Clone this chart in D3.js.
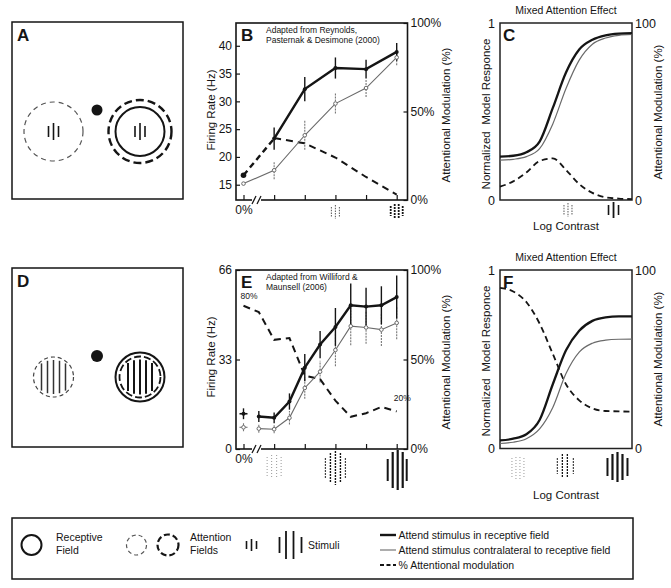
<!DOCTYPE html>
<html>
<head>
<meta charset="utf-8">
<script src="https://cdn.jsdelivr.net/npm/d3@7"></script>
<style>
  body { margin: 0; background: #fff; }
  svg { display: block; }
</style>
</head>
<body>
<script>
// ---------- data ----------
// B: Reynolds, Pasternak & Desimone (2000). contrast step 0 = 0%, axis broken after it
const contrastB = [0, 1, 2, 3, 4, 5];
const attendInB = [16.7, 23.3, 32.2, 36.0, 35.8, 38.9];
const attendInErrB = [0, 2.0, 2.2, 1.9, 1.7, 1.6];
const attendOutB = [15.2, 17.6, 23.9, 29.6, 32.4, 37.9];
const attendOutErrB = [0, 1.6, 2.6, 1.8, 1.6, 1.4];
const contrastModB = [1, 2, 3, 4, 5];
const modulationB = [35, 32, 24, 13, 3];
const yTicksB = [15, 20, 25, 30, 35, 40];

// E: Williford & Maunsell (2006)
const contrastE = [0, 0.5, 1, 1.5, 2, 2.5, 3, 3.5, 4, 4.5, 5];
const attendInE = [13, 12, 11.5, 17.5, 30, 38.5, 45, 53, 52.5, 53, 56];
const attendInErrE = [2, 2, 2, 3, 5, 5, 7, 8, 7, 7, 8];
const attendOutE = [8, 7.5, 7.3, 11.5, 22.5, 28.5, 36.5, 45.3, 44.8, 44, 46.5];
const attendOutErrE = [1.5, 1.5, 1.5, 2.5, 4, 4, 6, 7, 6, 6, 6];
const modulationE = [80, 76.5, 61, 62, 41, 39, 27, 18, 20, 23.5, 21];
const yTicksE = [0, 33, 66];
const modTicks = [0, 50, 100];

// C and F: model responses over log contrast
const logContrast = [0, 1, 2, 3, 4, 5, 6, 7, 8, 9, 10];
const modelInC = [0.245, 0.25, 0.27, 0.33, 0.52, 0.72, 0.85, 0.905, 0.93, 0.94, 0.943];
const modelOutC = [0.225, 0.23, 0.245, 0.29, 0.43, 0.63, 0.79, 0.88, 0.915, 0.93, 0.935];
const modelModC = [7.5, 10.5, 15.5, 22, 23.5, 17, 9, 4, 1.5, 0.8, 0.5];
const modelInF = [0.045, 0.055, 0.08, 0.16, 0.36, 0.55, 0.66, 0.715, 0.735, 0.74, 0.74];
const modelOutF = [0.028, 0.035, 0.055, 0.11, 0.23, 0.42, 0.54, 0.59, 0.607, 0.612, 0.613];
const modelModF = [90, 88, 82, 70, 53, 36, 27, 22.5, 21, 20.8, 20.6];

const legendLines = ["Attend stimulus in receptive field",
  "Attend stimulus contralateral to receptive field",
  "% Attentional modulation"];

// ---------- drawing ----------
const ink = "#151515", grey = "#6a6a6a";
const font = "'Liberation Sans', Arial, Helvetica, sans-serif";

const svg = d3.select("body").append("svg")
  .attr("width", 671).attr("height", 588)
  .style("font-family", font);
svg.append("rect").attr("width", 671).attr("height", 588).attr("fill", "#fff");

function txt(x, y, s, size, opts = {}) {
  return svg.append("text").attr("x", x).attr("y", y)
    .attr("font-size", size).attr("fill", ink)
    .attr("text-anchor", opts.anchor || "start")
    .attr("font-weight", opts.bold ? "bold" : null)
    .text(s);
}

function vText(x, y, s, size) {
  svg.append("text").attr("transform", `translate(${x},${y}) rotate(-90)`)
    .attr("text-anchor", "middle").attr("dy", "0.35em")
    .attr("font-size", size).attr("fill", ink)
    .style("white-space", "pre").text(s);
}

// a stimulus glyph: bars = [dx, half height, width, dash, colour]
function glyph(cx, cy, bars) {
  bars.forEach(([dx, h, w, dash, c]) => {
    svg.append("line")
      .attr("x1", cx + dx).attr("x2", cx + dx)
      .attr("y1", cy - h).attr("y2", cy + h)
      .attr("stroke", c || ink).attr("stroke-width", w)
      .attr("stroke-dasharray", dash || null);
  });
}

function circle(cx, cy, r, w, dash, c) {
  svg.append("circle").attr("cx", cx).attr("cy", cy).attr("r", r)
    .attr("fill", "none").attr("stroke", c || ink).attr("stroke-width", w)
    .attr("stroke-dasharray", dash || null);
}

// ---- panels A and D: the stimulus layouts
function scene(top, h, letter) {
  svg.append("rect").attr("x", 12).attr("y", top).attr("width", 171).attr("height", h)
    .attr("fill", "none").attr("stroke", ink).attr("stroke-width", 1.5);
  txt(17, top + 19, letter, 17, { bold: true });
}

scene(22, 177, "A");
circle(53.5, 131.5, 29.5, 1.2, "5,4", "#555");
glyph(53.5, 131.5, [[-5, 5.5, 1.6], [0, 8.5, 1.6], [5, 5.5, 1.6]]);
svg.append("circle").attr("cx", 97).attr("cy", 110).attr("r", 5.5).attr("fill", ink);
circle(140, 131.5, 24.5, 2);
circle(140, 131.5, 31.5, 2.4, "8,4");
glyph(140, 131.5, [[-5, 5.5, 1.6], [0, 8.5, 1.6], [5, 5.5, 1.6]]);

scene(268, 179, "D");
svg.append("circle").attr("cx", 97).attr("cy", 356).attr("r", 6).attr("fill", ink);
circle(53.5, 377, 20, 1.2, "4,3", "#444");
glyph(53.5, 377, [-12, -6, 0, 6, 12].map(dx => [dx, Math.sqrt(400 - dx * dx) * 0.85, 1.5, null, "#333"]));
circle(140, 377, 24.5, 2);
circle(140, 377, 20.5, 1.8, "7,3");
glyph(140, 377, [-12, -6, 0, 6, 12].map(dx => [dx, Math.sqrt(420 - dx * dx) * 0.85, 2]));

// ---- panels B and E: recorded firing rates
function dataPanel(o) {
  const L = 236, R = 407.5;
  const x = d3.scaleLinear().domain([0, 5]).range([243.5, 396.7]);
  const y = d3.scaleLinear().domain(o.yDomain).range([o.bottom, o.top]);
  const yR = d3.scaleLinear().domain([0, 100]).range([o.bottom, o.top]);
  const g = svg.append("g");

  const axL = g.append("g").attr("transform", `translate(${L},0)`)
    .call(d3.axisLeft(y).tickValues(o.yTicks).tickSizeInner(-4).tickSizeOuter(0).tickPadding(4));
  const axR = g.append("g").attr("transform", `translate(${R},0)`)
    .call(d3.axisRight(yR).tickValues(modTicks).tickFormat(d => d + "%")
      .tickSizeInner(-4).tickSizeOuter(0).tickPadding(3));
  const axB = g.append("g").attr("transform", `translate(0,${o.bottom})`)
    .call(d3.axisBottom(x).tickValues([0, 1, 2, 3, 4, 5]).tickFormat(d => d === 0 ? "0%" : "")
      .tickSizeInner(-5).tickSizeOuter(0).tickPadding(5));
  [axL, axR, axB].forEach(a => {
    a.attr("font-family", null).attr("font-size", 12);
    a.select(".domain").remove();
    a.selectAll("line").attr("stroke", ink).attr("stroke-width", 1.2);
    a.selectAll("text").attr("fill", ink);
  });

  g.append("rect").attr("x", L).attr("y", o.top).attr("width", R - L).attr("height", o.bottom - o.top)
    .attr("fill", "none").attr("stroke", ink).attr("stroke-width", 1.6);

  // axis break
  g.append("rect").attr("x", 252).attr("y", o.bottom - 3).attr("width", 9).attr("height", 6).attr("fill", "#fff");
  [252, 257].forEach(bx => g.append("line")
    .attr("x1", bx).attr("y1", o.bottom + 4).attr("x2", bx + 4).attr("y2", o.bottom - 4)
    .attr("stroke", ink).attr("stroke-width", 1.3));

  const line = d3.line().x(d => x(d[0])).y(d => y(d[1]));
  const inPts = d3.zip(o.contrast, o.attendIn, o.attendInErr);
  const outPts = d3.zip(o.contrast, o.attendOut, o.attendOutErr);

  // error bars
  outPts.forEach(([c, v, e]) => {
    if (!e) return;
    g.append("line").attr("x1", x(c)).attr("x2", x(c)).attr("y1", y(v - e)).attr("y2", y(v + e))
      .attr("stroke", "#777").attr("stroke-width", 1.1).attr("stroke-dasharray", "2,1");
  });
  inPts.forEach(([c, v, e]) => {
    if (!e) return;
    g.append("line").attr("x1", x(c)).attr("x2", x(c)).attr("y1", y(v - e)).attr("y2", y(v + e))
      .attr("stroke", ink).attr("stroke-width", 1.4);
  });

  // modulation
  g.append("path").datum(d3.zip(o.modContrast, o.modulation))
    .attr("d", d3.line().x(d => x(d[0])).y(d => yR(d[1])))
    .attr("fill", "none").attr("stroke", ink).attr("stroke-width", 2).attr("stroke-dasharray", "7,5");

  // attend-out (thin)
  const outStart = o.linkZero ? 0 : 1;
  g.append("path").datum(outPts.slice(outStart)).attr("d", line)
    .attr("fill", "none").attr("stroke", grey).attr("stroke-width", 1.1);
  // attend-in (thick)
  if (o.linkZero) {
    g.append("path").datum(inPts.slice(0, 2)).attr("d", line)
      .attr("fill", "none").attr("stroke", ink).attr("stroke-width", 2.4).attr("stroke-dasharray", "6,4");
  }
  g.append("path").datum(inPts.slice(1)).attr("d", line)
    .attr("fill", "none").attr("stroke", ink).attr("stroke-width", 2.4);

  if (o.zeroBars) {
    [[o.attendIn[0], ink, 1.6], [o.attendOut[0], "#777", 1.1]].forEach(([v, c, w]) =>
      g.append("line").attr("x1", x(0) - 4).attr("x2", x(0) + 4).attr("y1", y(v)).attr("y2", y(v))
        .attr("stroke", c).attr("stroke-width", w));
  }

  g.selectAll(".mo").data(outPts).join("circle")
    .attr("cx", d => x(d[0])).attr("cy", d => y(d[1])).attr("r", 1.8)
    .attr("fill", "#fff").attr("stroke", grey).attr("stroke-width", 1);
  g.selectAll(".mi").data(inPts).join("circle")
    .attr("cx", d => x(d[0])).attr("cy", d => y(d[1])).attr("r", (d, i) => i === 0 && o.linkZero ? 2.8 : 2)
    .attr("fill", ink);

  txt(241, o.top + 17.5, o.letter, 17, { bold: true });
  txt(266, o.top + 10, o.ref[0], 8.5);
  txt(266, o.top + 19.5, o.ref[1], 8.5);
  vText(211, o.labelY, "Firing Rate (Hz)", 11.5);
  vText(446, o.labelY + 5, "Attentional Modulation (%)", 11.5);

  o.glyphs.forEach(([c, cy, bars]) => glyph(x(c), cy, bars));
  return { x, yR };
}

const faint3 = [[-4, 5, 1.1, "1.5,1.2", "#666"], [0, 7, 1.1, "1.5,1.2", "#666"], [4, 5, 1.1, "1.5,1.2", "#666"]];

dataPanel({
  top: 23, bottom: 200, yDomain: [12.25, 44.1], yTicks: yTicksB, letter: "B",
  ref: ["Adapted from Reynolds,", "Pasternak & Desimone (2000)"],
  contrast: contrastB, attendIn: attendInB, attendInErr: attendInErrB,
  attendOut: attendOutB, attendOutErr: attendOutErrB,
  modContrast: contrastModB, modulation: modulationB,
  linkZero: true, zeroBars: false, labelY: 110,
  glyphs: [
    [3, 212, faint3],
    [5, 211, [[-6, 5, 1.8, "2,1"], [-2, 7, 1.8, "2,1"], [2, 7, 1.8, "2,1"], [6, 5, 1.8, "2,1"]]]
  ]
});

const eP = dataPanel({
  top: 270, bottom: 449, yDomain: [0, 66], yTicks: yTicksE, letter: "E",
  ref: ["Adapted from Williford &", "Maunsell (2006)"],
  contrast: contrastE, attendIn: attendInE, attendInErr: attendInErrE,
  attendOut: attendOutE, attendOutErr: attendOutErrE,
  modContrast: contrastE, modulation: modulationE,
  linkZero: false, zeroBars: true, labelY: 357,
  glyphs: [
    [1, 467, [[-7, 10, 1, "1,2", "#999"], [-2.5, 12, 1, "1,2", "#999"], [2.5, 12, 1, "1,2", "#999"], [7, 10, 1, "1,2", "#999"]]],
    [3, 468, [[-10, 10, 1.2, "2,1", "#444"], [-5, 15, 1.4, "2,1"], [0, 17, 1.4, "2,1"], [5, 15, 1.4, "2,1"], [10, 10, 1.2, "2,1", "#444"]]],
    [5, 470, [[-9, 11, 2], [-4, 18, 2.2], [1, 20, 2.2], [6, 18, 2.2], [10, 11, 2]]]
  ]
});
txt(eP.x(0) - 3, eP.yR(modulationE[0]) - 7, "80%", 8.5);
txt(eP.x(5) - 3, eP.yR(modulationE[10]) - 10, "20%", 8.5);

// ---- panels C and F: model
function modelPanel(o) {
  const L = 500, R = 632;
  const x = d3.scaleLinear().domain([0, 10]).range([L, R]);
  const y = d3.scaleLinear().domain([0, 1]).range([o.bottom, o.top]);
  const yR = d3.scaleLinear().domain([0, 100]).range([o.bottom, o.top]);
  const g = svg.append("g");

  const axL = g.append("g").attr("transform", `translate(${L},0)`)
    .call(d3.axisLeft(y).tickValues([0, 1]).tickFormat(d3.format("d")).tickSize(0).tickPadding(5));
  const axR = g.append("g").attr("transform", `translate(${R},0)`)
    .call(d3.axisRight(yR).tickValues([0, 100]).tickSize(0).tickPadding(3));
  [axL, axR].forEach(a => {
    a.attr("font-family", null).attr("font-size", 12.5);
    a.select(".domain").remove();
    a.selectAll("text").attr("fill", ink);
  });
  g.append("rect").attr("x", L).attr("y", o.top).attr("width", R - L).attr("height", o.bottom - o.top)
    .attr("fill", "none").attr("stroke", "#222").attr("stroke-width", 1.5);

  const curve = d3.line().x(d => x(d[0])).y(d => y(d[1])).curve(d3.curveMonotoneX);
  g.append("path").datum(d3.zip(logContrast, o.modulation))
    .attr("d", d3.line().x(d => x(d[0])).y(d => yR(d[1])).curve(d3.curveMonotoneX))
    .attr("fill", "none").attr("stroke", ink).attr("stroke-width", 1.8).attr("stroke-dasharray", "6,4");
  g.append("path").datum(d3.zip(logContrast, o.attendOut)).attr("d", curve)
    .attr("fill", "none").attr("stroke", grey).attr("stroke-width", 1.2);
  g.append("path").datum(d3.zip(logContrast, o.attendIn)).attr("d", curve)
    .attr("fill", "none").attr("stroke", ink).attr("stroke-width", 2.3);

  txt(503, o.top + 18, o.letter, 17, { bold: true });
  txt(566, o.top - 9, "Mixed Attention Effect", 10.5, { anchor: "middle" });
  txt(566, o.logY, "Log Contrast", 11.5, { anchor: "middle" });
  vText(485.5, o.top + 91, "Normalized  Model Responce", 11.5);
  vText(658, o.top + 89, "Attentional Modulation (%)", 11.5);
  o.glyphs.forEach(([c, cy, bars]) => glyph(x(c), cy, bars));
}

modelPanel({
  top: 23, bottom: 200, letter: "C", logY: 230,
  attendIn: modelInC, attendOut: modelOutC, modulation: modelModC,
  glyphs: [
    [5.15, 210, faint3],
    [8.6, 210, [[-5, 5, 1.6], [0, 8, 1.8], [5, 5, 1.6]]]
  ]
});

modelPanel({
  top: 270, bottom: 448.5, letter: "F", logY: 499,
  attendIn: modelInF, attendOut: modelOutF, modulation: modelModF,
  glyphs: [
    [1.36, 468, [[-6, 10, 1, "1,2", "#999"], [-2, 11, 1, "1,2", "#999"], [2, 11, 1, "1,2", "#999"], [6, 10, 1, "1,2", "#999"]]],
    [4.8, 466, [[-6, 8, 1.2, "2,1", "#444"], [-1, 12, 1.3, "2,1"], [4, 12, 1.3, "2,1"], [10, 8, 1.2, "2,1", "#444"]]],
    [8.9, 467, [[-10, 9, 2], [-5, 13, 2.2], [0, 15, 2.2], [5, 13, 2.2], [10, 9, 2]]]
  ]
});

// ---- legend
svg.append("rect").attr("x", 12).attr("y", 518).attr("width", 621).attr("height", 61)
  .attr("fill", "none").attr("stroke", ink).attr("stroke-width", 1.5);
circle(31.5, 545, 10, 2);
txt(56, 541, "Receptive", 10.5);
txt(56, 553.5, "Field", 10.5);
circle(136.5, 545, 10, 1.2, "4,3", "#555");
circle(168, 545, 10.5, 2.2, "6,3");
txt(190, 541, "Attention", 10.5);
txt(190, 553.5, "Fields", 10.5);
glyph(251.5, 545, [[-5, 4, 1.6], [0, 6, 1.6], [5, 4, 1.6]]);
glyph(290, 545, [[-10.5, 8, 1.8], [-4, 14, 1.8], [3.5, 14, 1.8], [11.5, 8, 1.8]]);
txt(308, 549, "Stimuli", 10.5);
const legendStyles = [[ink, 2.4, null], [grey, 1.1, null], [ink, 1.8, "4,2.5"]];
legendLines.forEach((s, i) => {
  const ly = 535 + i * 15;
  svg.append("line").attr("x1", 380).attr("x2", 396).attr("y1", ly).attr("y2", ly)
    .attr("stroke", legendStyles[i][0]).attr("stroke-width", legendStyles[i][1])
    .attr("stroke-dasharray", legendStyles[i][2]);
  txt(398.5, ly + 3.8, s, 10.5);
});
</script>
</body>
</html>
